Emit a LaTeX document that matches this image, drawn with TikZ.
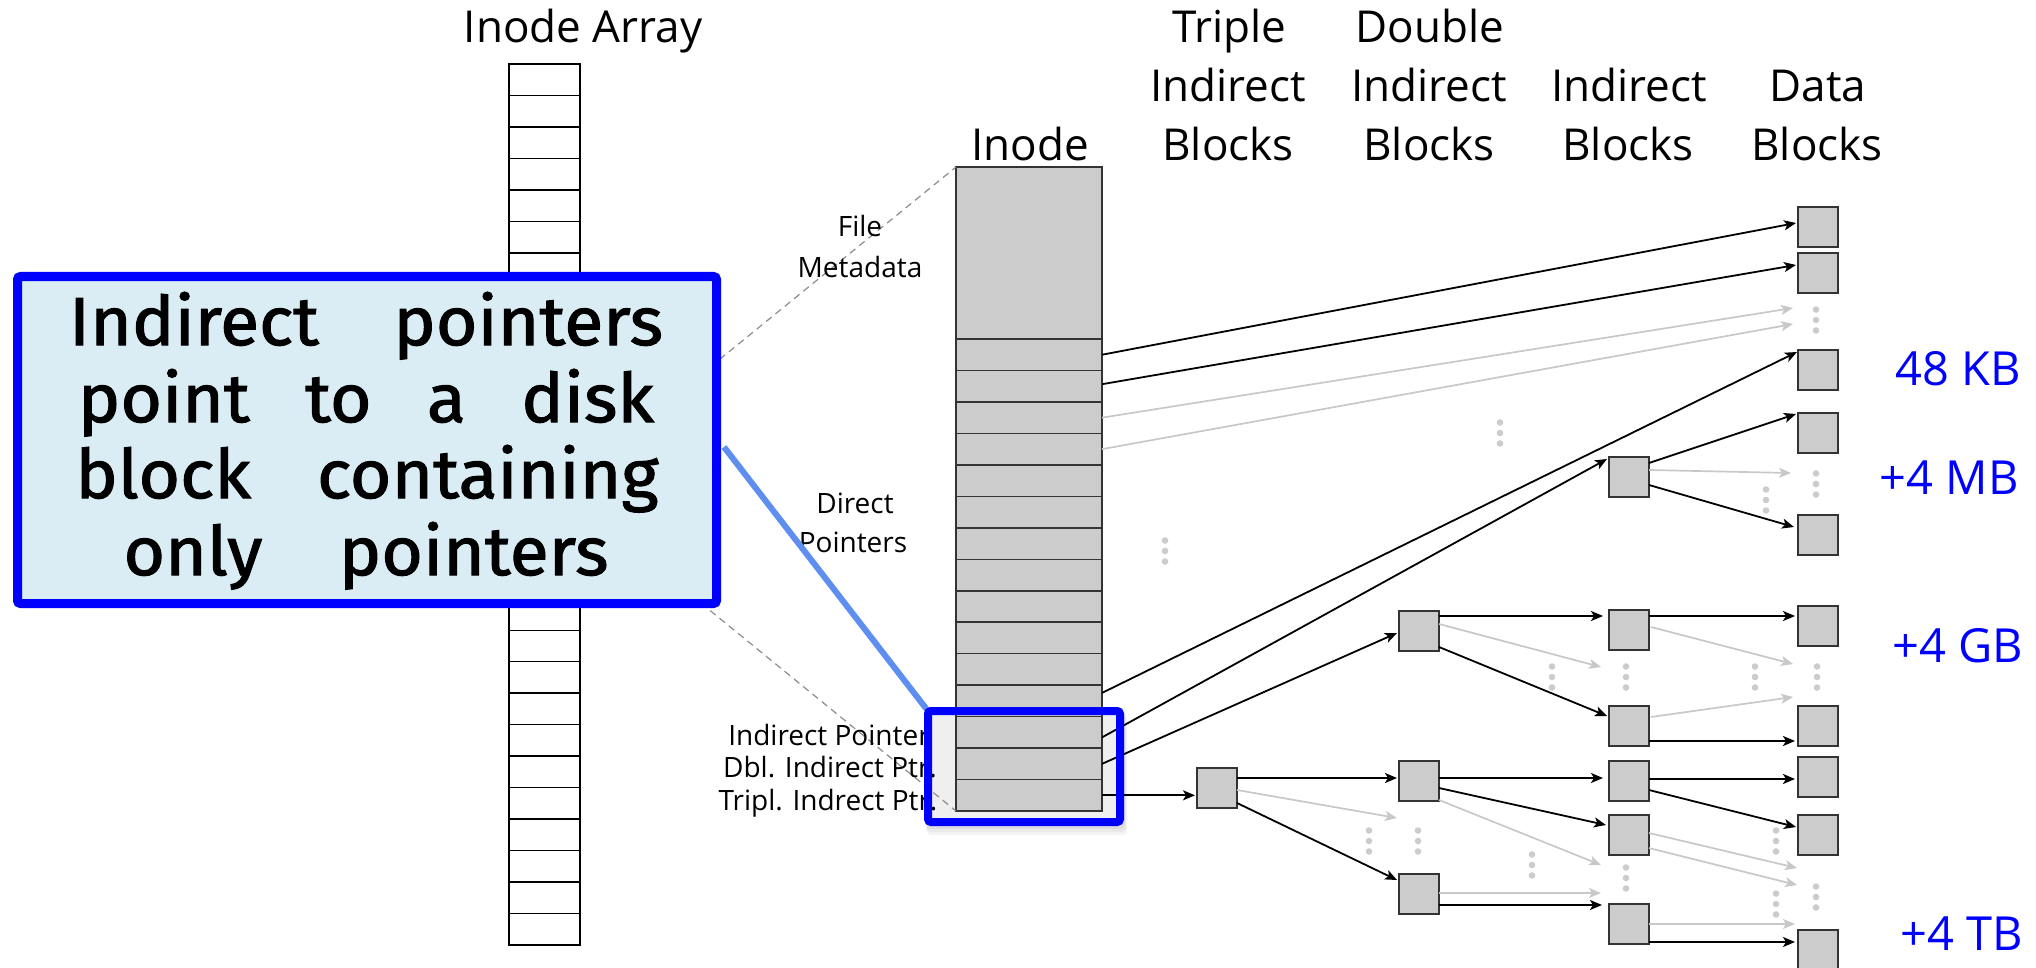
\documentclass[tikz,border=0pt]{standalone}
\usepackage{fontspec}
\setmainfont{Open Sans}
\newfontfamily\callfont[FakeStretch=1.05,FakeBold=1.6]{Fira Sans}
\usetikzlibrary{arrows.meta,calc}

\definecolor{blockfill}{HTML}{CCCCCC}
\definecolor{blockedge}{HTML}{333333}
\definecolor{faint}{HTML}{C8C8C8}
\definecolor{dotgray}{HTML}{CCCCCC}
\definecolor{calloutfill}{HTML}{DBEDF4}
\definecolor{calloutedge}{HTML}{0000FF}
\definecolor{linkblue}{HTML}{5E8FF0}
\definecolor{hlfill}{HTML}{EFEFEF}
\definecolor{dashgray}{HTML}{8C8C8C}
\definecolor{sizeblue}{HTML}{0000FF}

% a short vertical run of three dots
\newcommand\dotcol[1]{\foreach \dd in {-10.5,0,10.5}{\fill[dotgray] ($(#1)+(0,\dd)$) circle (3.3);}}

\begin{document}
\begin{tikzpicture}[x=1pt,y=-1pt,
  cell/.style={draw=black, line width=1.5pt, fill=white, minimum width=71pt, minimum height=31.46pt, inner sep=0pt, outer sep=0pt},
  irow/.style={draw=blockedge, line width=1.5pt, fill=blockfill, minimum width=146pt, minimum height=31.47pt, inner sep=0pt, outer sep=0pt},
  blk/.style={draw=blockedge, line width=1.8pt, fill=blockfill, minimum width=40pt, minimum height=40pt, inner sep=0pt, outer sep=0pt},
  ptr/.style={draw=black, line width=1.8pt, -{Stealth[length=12pt,width=10pt,inset=3pt]}},
  ghost/.style={draw=faint, line width=1.7pt, -{Stealth[length=12pt,width=10pt,inset=3pt]}},
  hdr/.style={font=\fontsize{44}{50}\selectfont, anchor=base, inner sep=0pt},
  lbl/.style={font=\fontsize{28}{32}\selectfont, anchor=base, inner sep=0pt},
  sizelbl/.style={font=\fontsize{47}{52}\selectfont, text=sizeblue, anchor=base east, inner sep=0pt},
  calltext/.style={font=\callfont\fontsize{68}{77}\selectfont, anchor=base, inner sep=0pt},
]
\useasboundingbox (0,0) rectangle (2036,968);
\fill[white] (0,0) rectangle (2036,968);

% ---- highlight behind the three indirect pointer slots
\node[fill=hlfill, minimum width=192pt, minimum height=111pt, inner sep=0pt, outer sep=0pt] (hl) at (1024,766.5) {};
\foreach \o in {3,6,9}
  \fill[black, opacity=0.045, rounded corners=4pt] ($(hl.north west)+(\o/3-4,\o-4)$) rectangle ($(hl.south east)+(\o/3+4,\o+4)$);
\fill[hlfill] (hl.north west) rectangle (hl.south east);

% ---- inode array
\foreach \i in {1,...,28}
  \node[cell] (a\i) at (544.5,{64+(\i-0.5)*31.46}) {};

% ---- the expanded inode
\node[irow, minimum height=172pt] (meta) at (1029,253) {};
\foreach \i in {1,...,15}
  \node[irow] (r\i) at (1029,{339+(\i-0.5)*31.47}) {};

% zoom lines from one array slot to the inode
\draw[dashgray, line width=1.2pt, dash pattern=on 7pt off 5pt] (a14.north east) -- (meta.north west);
\draw[dashgray, line width=1.2pt, dash pattern=on 7pt off 5pt] (a14.south east) -- (r15.south west);

% ---- headings
\node[hdr] (tArray) at (583,43) {Inode Array};
\node[hdr] (tInode) at (1030,161) {Inode};
\node[hdr] (tTa) at (1229,43) {Triple};
\node[hdr] (tTb) at (1228,102) {Indirect};
\node[hdr] (tTc) at (1228,161) {Blocks};
\node[hdr] (tDa) at (1430,43) {Double};
\node[hdr] (tDb) at (1429,102) {Indirect};
\node[hdr] (tDc) at (1429,161) {Blocks};
\node[hdr] (tIb) at (1629,102) {Indirect};
\node[hdr] (tIc) at (1628,161) {Blocks};
\node[hdr] (tBb) at (1818,102) {Data};
\node[hdr] (tBc) at (1817,161) {Blocks};

% ---- slot labels
\node[lbl] (lFile) at (860,237) {File};
\node[lbl] (lMeta) at (860,277) {Metadata};
\node[lbl] (lDir) at (855,513) {Direct};
\node[lbl] (lPtrs) at (853,552) {Pointers};
\node[lbl] (lInd) at (829,745) {Indirect Pointer};
\node[lbl] (lDbl) at (830,777) {Dbl. Indirect Ptr.};
\node[lbl] (lTri) at (828,810) {Tripl. Indrect Ptr.};

% ---- size annotations
\node[sizelbl] (s48) at (2021,385) {48 KB};
\node[sizelbl] (s4m) at (2019,494) {+4 MB};
\node[sizelbl] (s4g) at (2023,662) {+4 GB};
\node[sizelbl] (s4t) at (2023,950) {+4 TB};

% ---- blocks
\node[blk] (T) at (1217,788) {};
\node[blk] (DI1) at (1419,631) {};
\node[blk] (DI2) at (1419,781) {};
\node[blk] (DI3) at (1419,894) {};
\node[blk] (I1) at (1629,477) {};
\node[blk] (I2) at (1629,630) {};
\node[blk] (I3) at (1629,726) {};
\node[blk] (I4) at (1629,781) {};
\node[blk] (I5) at (1629,835) {};
\node[blk] (I6) at (1629,924) {};
\node[blk] (D1) at (1818,227) {};
\node[blk] (D2) at (1818,273) {};
\node[blk] (D3) at (1818,370) {};
\node[blk] (D4) at (1818,433) {};
\node[blk] (D5) at (1818,535) {};
\node[blk] (D6) at (1818,626) {};
\node[blk] (D7) at (1818,726) {};
\node[blk] (D8) at (1818,777) {};
\node[blk] (D9) at (1818,835) {};
\node[blk] (D10) at (1818,950) {};

% free ends of the faded pointers
\coordinate (g1) at (1793,308);
\coordinate (g2) at (1793,324);
\coordinate (g3) at (1791,473);
\coordinate (g4) at (1601,667);
\coordinate (g5) at (1793,664);
\coordinate (g6) at (1793,697);
\coordinate (g7) at (1397,818);
\coordinate (g8) at (1601,865);
\coordinate (g9) at (1601,893);
\coordinate (g10) at (1797,868);
\coordinate (g11) at (1797,885);
\coordinate (g12) at (1795,924);
\coordinate (k1) at (1602,905);

% ---- direct pointers
\draw[ptr] (r1.east) -- ($(D1.west)+(-2,-4)$);
\draw[ptr] ($(r2.east)+(0,-2)$) -- ($(D2.west)+(-2,-8)$);
\draw[ghost] (r3.east) -- (g1);
\draw[ghost] (r4.east) -- (g2);
\draw[ptr] ($(r12.east)+(0,-8)$) -- ($(D3.north west)+(-1,2)$);

% ---- indirect pointers
\draw[ptr] ($(r13.east)+(0,5)$) -- ($(I1.north west)+(-2,2)$);
\draw[ptr] (r14.east) -- ($(DI1.west)+(-2,2)$);
\draw[ptr] (r15.east) -- ($(r15.east -| T.west)+(-2,0)$);

\draw[ptr] ($(I1.east)+(0,-14)$) -- ($(D4.north west)+(-2,1)$);
\draw[ghost] ($(I1.east)+(0,-7)$) -- (g3);
\draw[ptr] ($(I1.east)+(0,8)$) -- ($(D5.west)+(-4,-8)$);

\draw[ptr] ($(DI1.east)+(0,-15)$) -- ($(I2.west)+(-6,-14)$);
\draw[ghost] ($(DI1.east)+(0,-7)$) -- (g4);
\draw[ptr] ($(DI1.east)+(0,16)$) -- ($(I3.west)+(-2,-10)$);

\draw[ptr] ($(I2.east)+(0,-14)$) -- ($(D6.west)+(-3,-10)$);
\draw[ghost] ($(I2.east)+(2,-3)$) -- (g5);
\draw[ghost] ($(I3.east)+(2,-9)$) -- (g6);
\draw[ptr] ($(I3.east)+(0,15)$) -- ($(D7.west)+(-3,15)$);

\draw[ptr] ($(T.east)+(0,-10)$) -- ($(DI2.west)+(-2,-3)$);
\draw[ghost] ($(T.east)+(0,2)$) -- (g7);
\draw[ptr] ($(T.east)+(0,15)$) -- ($(DI3.west)+(-2,-14)$);

\draw[ptr] ($(DI2.east)+(0,-3)$) -- ($(I4.west)+(-6,-3)$);
\draw[ptr] ($(DI2.east)+(0,7)$) -- ($(I5.west)+(-3,-10)$);
\draw[ghost] ($(DI2.east)+(0,19)$) -- (g8);

\draw[ghost] ($(DI3.east)+(0,-1)$) -- (g9);
\draw[ptr] ($(DI3.east)+(0,11)$) -- (k1);

\draw[ptr] ($(I4.east)+(0,-2)$) -- ($(D8.west)+(-3,2)$);
\draw[ptr] ($(I4.east)+(0,9)$) -- ($(D9.west)+(-2,-8)$);
\draw[ghost] ($(I5.east)+(0,-2)$) -- (g10);
\draw[ghost] ($(I5.east)+(0,13)$) -- (g11);
\draw[ghost] (I6.east) -- (g12);
\draw[ptr] ($(I6.east)+(0,18)$) -- ($(D10.west)+(-3,-8)$);

% ---- elision dots
\dotcol{1816,320}
\dotcol{1500,433}
\dotcol{1165,551}
\dotcol{1816,484}
\dotcol{1766,500}
\dotcol{1552,677}
\dotcol{1626,677}
\dotcol{1755,677}
\dotcol{1817,677}
\dotcol{1369,841}
\dotcol{1418,841}
\dotcol{1532,865}
\dotcol{1626,878}
\dotcol{1776,841}
\dotcol{1816,897}
\dotcol{1776,904}

% ---- callout
\node[draw=calloutedge, fill=calloutfill, line width=9pt, rounded corners=3pt,
      minimum width=699pt, minimum height=327pt, inner sep=0pt] (callout) at (367,440) {};
\node[calltext] (cl1) at (366,345) {\makebox[594pt]{Indirect\hfill pointers}};
\node[calltext] (cl2) at (366,422) {\makebox[576pt]{point\hfill to\hfill a\hfill disk}};
\node[calltext] (cl3) at (367,498) {\makebox[583pt]{block\hfill containing}};
\node[calltext] (cl4) at (366,575) {\makebox[485pt]{only\hfill pointers}};

\draw[linkblue, line width=6pt] ($(callout.east)+(3,7)$) -- (hl.north west);
\draw[calloutedge, line width=8pt, rounded corners=3pt] (hl.north west) rectangle (hl.south east);
\end{tikzpicture}
\end{document}
